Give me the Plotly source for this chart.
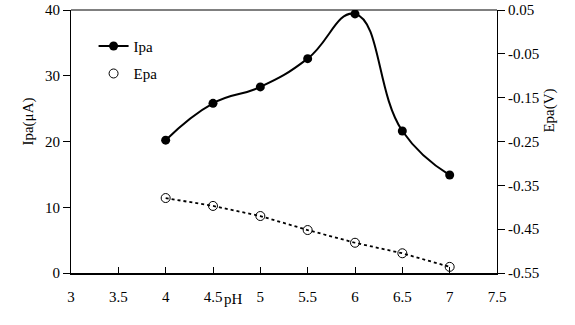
import plotly.graph_objects as go

ph = [4, 4.5, 5, 5.5, 6, 6.5, 7]
ipa = [20.2, 25.8, 28.3, 32.6, 39.4, 21.6, 14.9]
epa = [-0.379, -0.397, -0.420, -0.452, -0.481, -0.505, -0.536]

x_ticks = [3, 3.5, 4, 4.5, 5, 5.5, 6, 6.5, 7, 7.5]
x_ticktext = ["3", "3.5", "4", "4.5", "5", "5.5", "6", "6.5", "7", "7.5"]
y_ticks = [0, 10, 20, 30, 40]
y2_ticks = [0.05, -0.05, -0.15, -0.25, -0.35, -0.45, -0.55]
y2_ticktext = ["0.05", "-0.05", "-0.15", "-0.25", "-0.35", "-0.45", "-0.55"]

FONT = "Liberation Serif"
BLACK = "#000000"

fig = go.Figure()
fig.add_trace(go.Scatter(
    x=ph, y=ipa, name="Ipa", mode="lines+markers",
    line=dict(color=BLACK, width=2, shape="spline", smoothing=1.3),
    marker=dict(symbol="circle", size=9, color=BLACK),
    legendgroup="a", hoverinfo="skip",
))
fig.add_trace(go.Scatter(
    x=ph, y=epa, yaxis="y2", mode="lines", showlegend=False,
    line=dict(color=BLACK, width=1.8, dash="dot"), hoverinfo="skip",
))
fig.add_trace(go.Scatter(
    x=ph, y=epa, name="Epa", yaxis="y2", mode="markers",
    marker=dict(symbol="circle-open", size=9, color=BLACK, line=dict(width=1)),
    legendgroup="b", hoverinfo="skip",
))

fig.update_layout(
    template="none",
    width=575, height=325,
    hovermode=False,
    margin=dict(l=71, r=78, t=10, b=52, autoexpand=False),
    paper_bgcolor="white", plot_bgcolor="white",
    font=dict(family=FONT, size=15, color=BLACK),
    showlegend=True,
    legend=dict(x=0.053, y=0.925, xanchor="left", yanchor="top",
                bgcolor="rgba(0,0,0,0)", font=dict(size=15, color=BLACK),
                traceorder="grouped", tracegroupgap=5),
    xaxis=dict(range=[3, 7.5], tickvals=x_ticks, ticktext=x_ticktext,
               ticks="inside", ticklen=6, tickcolor=BLACK, tickwidth=1,
               showline=True, linecolor=BLACK, linewidth=2, mirror=False,
               showgrid=False, zeroline=False, ticklabelstandoff=9,
               automargin=False, tickfont=dict(color=BLACK)),
    yaxis=dict(range=[0, 40], tickvals=y_ticks, ticks="outside", ticklen=7,
               tickcolor=BLACK, tickwidth=1, showline=True, linecolor=BLACK, linewidth=1,
               showgrid=False, zeroline=False, automargin=False,
               tickfont=dict(color=BLACK)),
    yaxis2=dict(range=[-0.55, 0.05], overlaying="y", side="right",
                tickvals=y2_ticks, ticktext=y2_ticktext, ticks="outside",
                ticklen=7, tickcolor=BLACK, tickwidth=1, showline=True, linecolor=BLACK,
                linewidth=1, showgrid=False, zeroline=False, automargin=False,
                tickfont=dict(color=BLACK)),
    shapes=[dict(type="line", xref="paper", yref="paper", x0=0, x1=1, y0=1, y1=1,
                 line=dict(color=BLACK, width=1))],
    annotations=[
        dict(text="pH", x=4.72, y=0, xref="x", yref="paper", yshift=-16,
             showarrow=False, yanchor="top", font=dict(size=15, color=BLACK)),
        dict(text="Ipa(μA)", x=0, y=0.574, xref="paper", yref="paper",
             xshift=-53, textangle=-90, showarrow=False, font=dict(size=15, color=BLACK)),
        dict(text="Epa(V)", x=1, y=0.707, xref="paper", yref="paper",
             xshift=63, textangle=-90, showarrow=False, font=dict(size=15, color=BLACK)),
    ],
)

fig.write_html("out.html", config={"displayModeBar": False, "staticPlot": True},
               post_script="document.body.style.margin='0px';")
